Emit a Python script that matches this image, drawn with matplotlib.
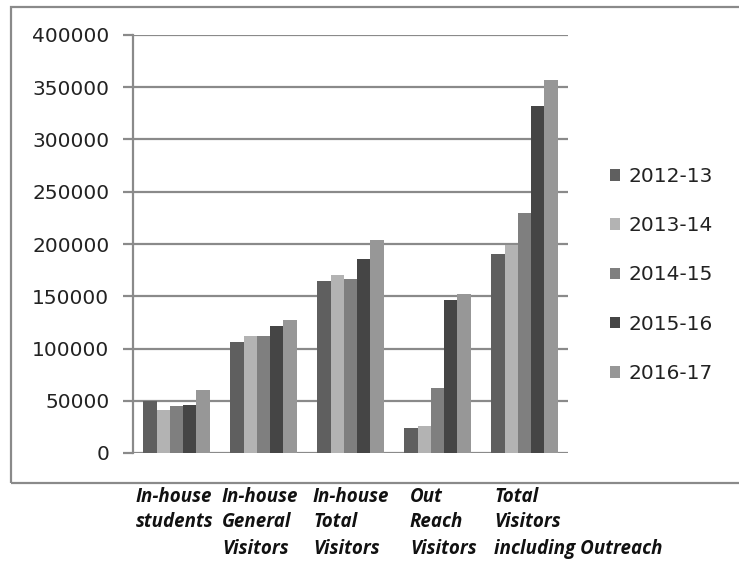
import matplotlib
matplotlib.use("Agg")
import matplotlib.pyplot as plt
from matplotlib.patches import Rectangle
import numpy as np

categories = ["In-house students", "In-house General Visitors", "In-house Total Visitors",
              "Out Reach Visitors", "Total Visitors including Outreach"]
label_lines = [["In-house", "students"],
               ["In-house", "General", "Visitors"],
               ["In-house", "Total", "Visitors"],
               ["Out", "Reach", "Visitors"],
               ["Total", "Visitors", "including Outreach"]]
series_names = ["2012-13", "2013-14", "2014-15", "2015-16", "2016-17"]
v2012 = [49400, 105800, 164800, 24200, 190000]
v2013 = [40800, 111600, 170500, 26100, 198600]
v2014 = [44600, 111600, 166700, 62200, 229800]
v2015 = [46200, 121100, 186100, 146000, 331800]
v2016 = [59900, 126900, 203700, 152000, 356900]
series = [v2012, v2013, v2014, v2015, v2016]
colors = ["#5f5f5f", "#b3b3b3", "#7f7f7f", "#454545", "#979797"]
yticks = [0, 50000, 100000, 150000, 200000, 250000, 300000, 350000, 400000]

W, H = 739, 567
fig = plt.figure(figsize=(W / 100, H / 100), dpi=100)
plt.rcParams['font.family'] = ['DejaVu Sans']

ax = fig.add_axes([133 / W, 1 - 453 / H, (568 - 133) / W, (453 - 35) / H])
x = np.arange(len(categories))
bw = 0.152
for i, (vals, name, c) in enumerate(zip(series, series_names, colors)):
    ax.bar(x + (i - 2) * bw, vals, width=bw, color=c, label=name, zorder=3)

ax.set_xlim(-0.5, len(categories) - 0.5)
ax.set_ylim(0, 400000)
ax.set_yticks(yticks)
ax.set_yticklabels([str(t) for t in yticks], fontsize=14.5, color="#222222")
ax.set_xticks([])
ax.grid(axis="y", color="#8a8a8a", linewidth=1.6, zorder=0)
for s in ["top", "right", "bottom"]:
    ax.spines[s].set_visible(False)
ax.spines["left"].set_color("#8a8a8a")
ax.spines["left"].set_linewidth(1.6)
ax.tick_params(axis="y", length=7, width=1.6, color="#8a8a8a", pad=10)

# outer chart border
fig.patches.append(Rectangle((11 / W, 1 - 483 / H), 1.0, (483 - 7) / H,
                             transform=fig.transFigure, fill=False,
                             edgecolor="#8a8a8a", linewidth=1.6, clip_on=False))

leg = fig.legend(loc="center left", bbox_to_anchor=(610 / W, 1 - 275 / H), frameon=False,
                 fontsize=14.5, handlelength=0.5, handleheight=0.5, handletextpad=0.4,
                 labelspacing=1.5, borderpad=0, borderaxespad=0)
for t in leg.get_texts():
    t.set_color("#222222")

col_x = [136, 222, 313, 410, 494]
line_y = [497, 522, 549]
for lines, cx in zip(label_lines, col_x):
    for j, ln in enumerate(lines):
        fig.text(cx / W, 1 - line_y[j] / H, ln, fontsize=13.5, fontweight="bold",
                 fontstyle="italic", family=["Open Sans", "DejaVu Sans"],
                 ha="left", va="center", color="#111111")

fig.savefig("out.png", dpi=100)
